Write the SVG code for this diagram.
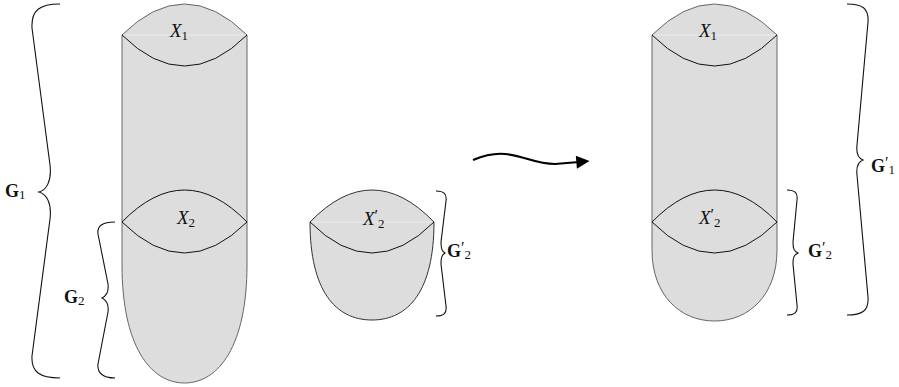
<svg xmlns="http://www.w3.org/2000/svg" width="899" height="387" viewBox="0 0 899 387">
<defs>
<style>
.body{fill:#dddddd;stroke:#666;stroke-width:1}
.lens{fill:none;stroke:#111;stroke-width:1}
.seam{fill:none;stroke:#efefef;stroke-width:0.7}
.brace{fill:none;stroke:#111;stroke-width:1.1}
.lbl{font-family:"Liberation Serif",serif;font-size:19px;fill:#111}
.it{font-style:italic}
.bf{font-weight:bold;font-size:18px}
.sub{font-size:13px;font-style:normal;font-weight:normal}
.pr{font-size:16px;font-style:normal;font-weight:normal}
.arrow{fill:none;stroke:#000;stroke-width:2.2}
</style>
<marker id="ah" viewBox="0 0 10 10" refX="2" refY="5" markerWidth="6.5" markerHeight="6" orient="auto" markerUnits="strokeWidth">
<path d="M0,0 L10,5 L0,10 Z" fill="#000"/>
</marker>
</defs>
<rect width="899" height="387" fill="#fff"/>

<g id="cylinder-left">
<path class="body" d="M122,35 Q184.5,-27 247,35 L247,265 C247,345 219,383 184.5,383 C150,383 122,345 122,265 Z"/>
<line class="seam" x1="123" y1="35" x2="246" y2="35"/>
<path class="lens" d="M122,35 Q184.5,97 247,35"/>
<path class="lens" d="M122,222 Q184.5,158 247,222"/>
<path class="lens" d="M122,222 Q184.5,284 247,222"/>
<text class="lbl it" x="170" y="37">X<tspan class="sub" dy="3">1</tspan></text>
<text class="lbl it" x="177" y="224">X<tspan class="sub" dy="3">2</tspan></text>
</g>

<g id="piece-small">
<path class="body" style="stroke:#333" d="M310,222 Q372,158 434,222 C434,290 409,320 372,320 C335,320 310,290 310,222 Z"/>
<line class="seam" x1="311" y1="222" x2="433" y2="222"/>
<path class="lens" d="M310,222 Q372,284 434,222"/>
<text class="lbl it" x="363" y="225">X<tspan class="pr" dy="-4">′</tspan><tspan class="sub" dy="7">2</tspan></text>
</g>

<g id="cylinder-right">
<path class="body" d="M652,35 Q714.5,-27 777,35 L777,250 C777,295 749,321 714.5,321 C680,321 652,295 652,250 Z"/>
<line class="seam" x1="653" y1="35" x2="776" y2="35"/>
<path class="lens" d="M652,35 Q714.5,97 777,35"/>
<path class="lens" d="M652,222 Q714.5,158 777,222"/>
<path class="lens" d="M652,222 Q714.5,284 777,222"/>
<text class="lbl it" x="699" y="37">X<tspan class="sub" dy="3">1</tspan></text>
<text class="lbl it" x="699" y="224">X<tspan class="pr" dy="-4">′</tspan><tspan class="sub" dy="7">2</tspan></text>
</g>

<g id="brace-G1">
<path class="brace" d="M60,4 C40,4 31,10 32,28 L50,165 C52,182 46,190 39,192 C46,194 52,202 50,219 L32,356 C31,372 40,378 60,378"/>
<text class="lbl bf" x="5" y="197">G<tspan class="sub" dy="2">1</tspan></text>
</g>

<g id="brace-G2">
<path class="brace" d="M115,222 C102,222 97,226 98,234 L108,284 C109,292 106,296 102,298 C106,300 109,304 108,312 L98,364 C97,372 102,378 115,378"/>
<text class="lbl bf" x="64" y="303">G<tspan class="sub" dy="2">2</tspan></text>
</g>

<g id="brace-G2p-small">
<path class="brace" d="M436,191 C444,191 447,194 446,201 L441,242 C441,249 442,251 445,253 C442,255 441,257 441,264 L446,306 C447,313 444,316 436,316"/>
<text class="lbl bf" x="447" y="257">G<tspan class="pr" dy="-4">′</tspan><tspan class="sub" dy="6">2</tspan></text>
</g>

<g id="brace-G2p-right">
<path class="brace" d="M787,190 C795,190 798,193 797,200 L793,242 C793,249 794,251 798,253 C794,255 793,257 793,264 L797,305 C798,312 795,315 787,315"/>
<text class="lbl bf" x="808" y="257">G<tspan class="pr" dy="-4">′</tspan><tspan class="sub" dy="6">2</tspan></text>
</g>

<g id="brace-G1p">
<path class="brace" d="M847,4 C862,4 869,8 868,22 L857,145 C856,154 858,158 863,160 C858,162 856,166 857,175 L868,297 C869,311 862,315 847,315"/>
<text class="lbl bf" x="871" y="172">G<tspan class="pr" dy="-4">′</tspan><tspan class="sub" dy="6">1</tspan></text>
</g>

<g id="connectors">
<path class="arrow" marker-end="url(#ah)" d="M473,160 C485,155 495,153 505,154 C525,156 535,164 555,164 L579,162"/>
</g>
</svg>
